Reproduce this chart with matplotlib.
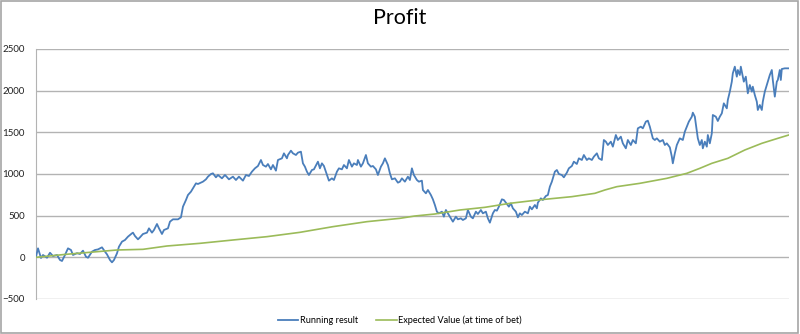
import matplotlib
matplotlib.use("Agg")
import matplotlib.pyplot as plt
from matplotlib.patches import Rectangle

# running profit after each bet
bet_no = [0, 2, 5, 7, 11, 14, 17, 21, 24, 26, 29, 32, 35, 37, 41, 44, 47, 50, 52, 56,
          59, 62, 66, 69, 71, 74, 76, 78, 81, 83, 86, 89,
          92, 96, 97, 99, 102, 104, 107, 111, 113, 116, 118, 121, 123, 126, 128, 132,
          134, 137, 142, 145, 147, 150, 152, 155, 157, 160, 162, 165, 167, 170, 172,
          175, 177, 180, 182, 186, 189,
          190, 193, 197, 200, 203, 207, 210, 213, 216, 219, 222, 225, 227, 230, 232,
          235, 237, 240, 242, 246, 248, 251, 252, 255, 257, 260, 262, 265, 267, 269,
          271, 273, 276, 278,
          282, 284, 286, 288, 291, 293, 296, 298, 301, 303, 306, 308, 311, 313, 316,
          318, 321, 322, 325, 327, 330, 332, 335, 337, 340, 342, 345, 347, 349, 352,
          354, 356, 359, 362, 364, 366, 369, 372, 374, 376,
          378, 381, 383, 386, 387, 390, 392, 395, 397, 399, 401, 403, 406, 408, 410,
          412, 415, 417, 420, 422, 425, 427, 430, 432, 435, 437, 440, 442, 445, 447,
          450, 452, 454, 457, 459, 461, 463, 466, 468,
          471, 473, 475, 477, 480, 482, 484, 486, 489, 492, 494, 496, 499, 501, 502,
          505, 507, 510, 512, 514, 516, 519, 521, 523, 526, 528, 531, 533, 536, 538,
          541, 543, 546, 548, 551, 553, 556, 558, 561, 563,
          566, 568, 570, 572, 575, 577, 580, 582, 585, 587, 590, 592, 595, 597, 600,
          602, 605, 607, 610, 612, 614, 617, 619, 621, 624, 627, 629, 631, 634, 636,
          637, 639, 641, 644, 647, 649, 651, 653, 656, 657, 659,
          661, 662, 664, 666, 667, 669, 671, 672, 674, 676, 677, 680, 682, 684, 686,
          688, 691, 692, 694, 696, 697, 699, 701, 702, 704, 705, 706, 708, 710, 712,
          714, 716, 717, 719, 721, 722, 724, 726, 727, 729, 731, 732, 734, 736, 737,
          739, 741, 742, 744, 745, 746, 749, 753]

running = [7, 108, -8, 28, -5, 55, 15, 28, -32, -44, 28, 108, 88, 28, 50, 40, 80, 7, -5, 68,
           88, 95, 120, 68, 36, -32, -60, -32, 48, 128, 188, 208,
           248, 288, 296, 256, 216, 240, 280, 296, 348, 296, 328, 400, 348, 280, 328, 348,
           428, 456, 456, 480, 608, 688, 748, 788, 828, 888, 880, 896, 908, 936, 968,
           1000, 1008, 960, 988, 948, 988,
           976, 936, 968, 928, 968, 920, 988, 976, 1028, 1068, 1096, 1168, 1108, 1088, 1120,
           1056, 1108, 1040, 1168, 1188, 1248, 1188, 1228, 1280, 1248, 1228, 1256, 1268, 1128, 1088,
           1028, 988, 1048, 1056,
           1148, 1068, 1128, 1096, 988, 920, 948, 928, 1028, 1068, 1056, 1108, 1068, 1168, 1088,
           1128, 1108, 1168, 1088, 1128, 1228, 1128, 1088, 1096, 1056, 988, 1088, 1128, 1188, 1108,
           1008, 936, 948, 896, 908, 948, 908, 968, 928, 1068,
           988, 928, 908, 920, 808, 768, 808, 748, 696, 628, 548, 528, 548, 488, 568,
           528, 468, 428, 488, 456, 468, 448, 468, 568, 488, 468, 548, 520, 568, 528,
           548, 468, 416, 528, 568, 560, 608, 696, 688,
           640, 608, 648, 588, 548, 480, 528, 508, 548, 528, 608, 576, 628, 588, 656,
           708, 688, 736, 748, 848, 908, 1028, 1048, 1000, 988, 960, 1016, 1068, 1096, 1148,
           1120, 1188, 1168, 1228, 1168, 1188, 1168, 1208, 1248, 1188,
           1168, 1408, 1388, 1348, 1388, 1328, 1468, 1408, 1448, 1368, 1308, 1408, 1348, 1408, 1368,
           1548, 1568, 1548, 1628, 1640, 1568, 1428, 1408, 1428, 1388, 1408, 1348, 1368, 1320, 1208,
           1128, 1248, 1348, 1428, 1408, 1508, 1568, 1628, 1688, 1736, 1688,
           1508, 1428, 1348, 1408, 1308, 1388, 1328, 1468, 1368, 1488, 1708, 1688, 1636, 1688, 1728,
           1848, 1788, 1888, 1988, 2108, 2208, 2288, 2168, 2248, 2188, 2288, 2228, 2108, 2168, 1968,
           2068, 1988, 2048, 1948, 1868, 1768, 1828, 1768, 1868, 1988, 2068, 2108, 2188, 2248, 2128,
           1928, 2108, 2128, 2248, 2128, 2260, 2268, 2268]

# expected value at time of bet
ev_bet_no = [0, 30, 81, 107, 131, 164, 197, 231, 264, 297, 331, 364, 379, 399, 424, 449,
             474, 502, 536, 559, 569, 581, 604, 631, 651, 664, 676, 692, 709, 726, 742, 753]
expected = [0, 36, 88, 96, 136, 168, 208, 248, 300, 368, 428, 468, 496, 520, 568, 600,
            648, 688, 728, 768, 808, 848, 888, 948, 1008, 1068, 1128, 1188, 1288, 1368, 1428, 1468]

yticks = [-500, 0, 500, 1000, 1500, 2000, 2500]

plt.rcParams['font.family'] = ['Lato', 'DejaVu Sans']

fig = plt.figure(figsize=(8, 3.34), dpi=100)
ax = fig.add_axes([0.045, 0.1048, 0.941, 0.7485])

ax.plot(bet_no, running, color='#4a7ebb', lw=1.3, label='Running result', zorder=3)
ax.plot(ev_bet_no, expected, color='#9bbb59', lw=1.2, label='Expected Value (at time of bet)', zorder=3)

ax.set_xlim(0, 753)
ax.set_ylim(-500, 2500)
ax.set_yticks(yticks)
ax.set_xticks([])
ax.tick_params(axis='y', length=0, pad=8, labelsize=7, colors='#222222')
ax.grid(axis='y', color='#b3b3b3', lw=1)
ax.set_axisbelow(True)
for side in ['top', 'right', 'bottom']:
    ax.spines[side].set_visible(False)
ax.spines['left'].set_color('#b3b3b3')

fig.suptitle('Profit', x=0.5, y=0.975, fontsize=15.5, va='top')

fig.legend(loc='center', bbox_to_anchor=(0.5, 0.042), ncol=2, frameon=False,
           fontsize=6.6, handlelength=2.2, columnspacing=2.0, handletextpad=0.2)

fig.patches.append(Rectangle((0.001, 0.002), 0.997, 0.995, transform=fig.transFigure,
                             fill=False, ec='#a6a6a6', lw=1.2))

fig.savefig('out.png', dpi=100)
